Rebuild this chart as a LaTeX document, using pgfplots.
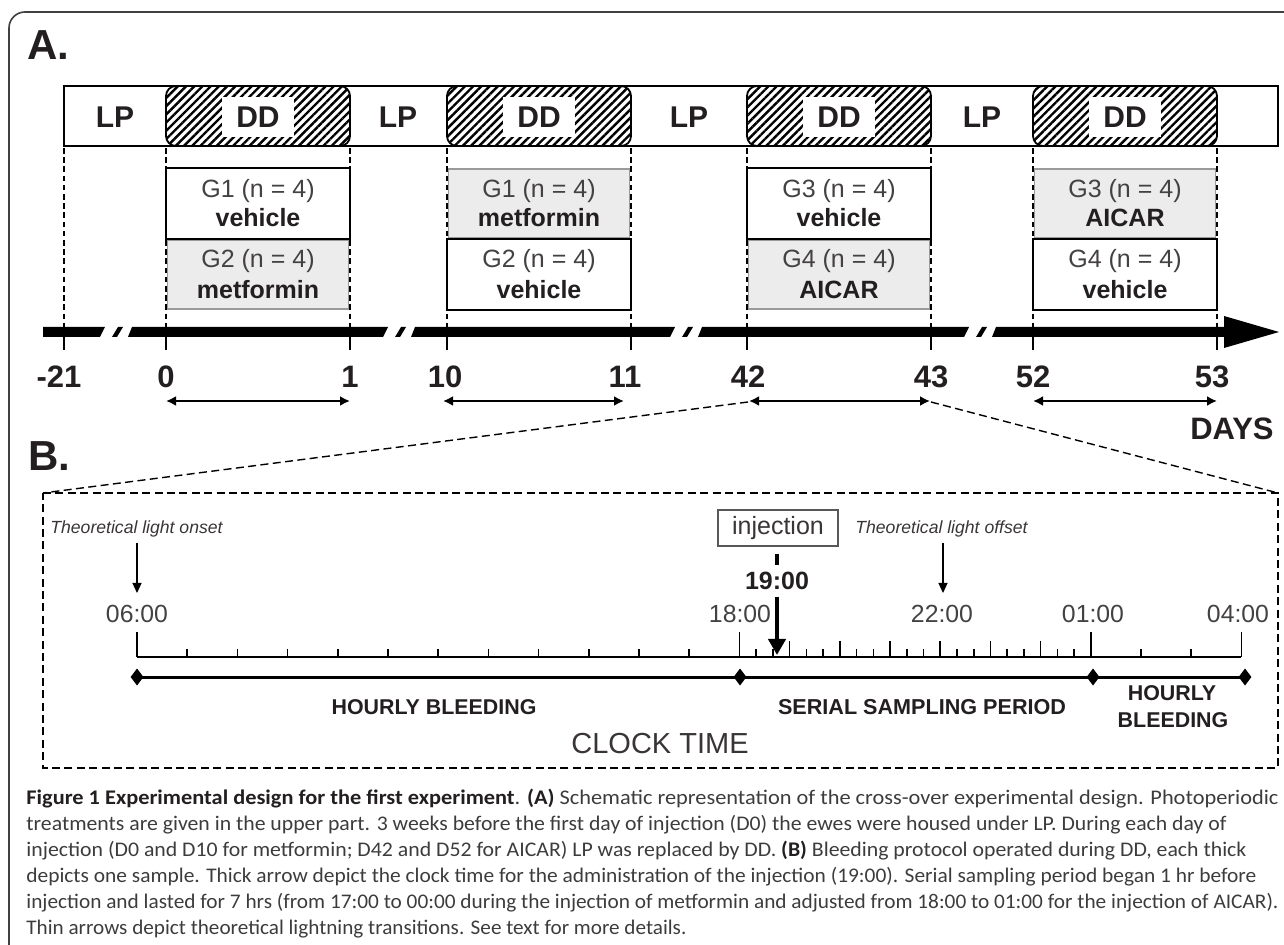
\documentclass[border=0pt]{standalone}
\usepackage{pgfplots}
\pgfplotsset{compat=1.18}
\usepackage{fontspec}
\setmainfont{Liberation Sans}
\newfontfamily\capfont{Carlito}
\usetikzlibrary{arrows.meta,patterns.meta}
\definecolor{txt}{HTML}{231F20}
\definecolor{capc}{HTML}{3C3C3C}
\definecolor{grayfill}{HTML}{ECECEC}
\definecolor{grayedge}{HTML}{9A9A9A}
\newcommand{\fs}[1]{\fontsize{#1}{#1}\selectfont}
% helper macros (numbers passed literally)
\newcommand{\ddbox}[3]{%
  \addplot[draw=black, line width=0.9pt, rounded corners=5pt, pattern={Lines[angle=45,distance=2.9pt,line width=1.2pt]}, pattern color=black]
    coordinates {(#1,86) (#2,86) (#2,146) (#1,146)} -- cycle;
  \node[fill=white, inner sep=0pt, minimum width=36pt, minimum height=20pt] at (axis cs:#3,117) {};
  \node[anchor=base, font=\fs{15}\bfseries, text=txt] at (axis cs:#3,128) {DD};}
\newcommand{\wbox}[4]{\addplot[draw=black, line width=1pt, fill=white] coordinates {(#1,#3) (#2,#3) (#2,#4) (#1,#4)} -- cycle;}
\newcommand{\gbox}[4]{\addplot[draw=grayedge, line width=0.6pt, fill=grayfill] coordinates {(#1,#3) (#2,#3) (#2,#4) (#1,#4)} -- cycle;}
\newcommand{\gtext}[5]{%
  \node[anchor=base, font=\fs{12.5}, text=txt!85] at (axis cs:#1,#2) {#3};
  \node[anchor=base, font=\fs{12.5}\bfseries, text=txt] at (axis cs:#1,#4) {#5};}
\newcommand{\capline}[3]{% baseline y, width (pt), text
  \node[anchor=base west, inner sep=0pt, font=\capfont\fs{10.4}, text=capc] at (axis cs:26,#1) {\resizebox{#2}{\height}{#3}};}
\begin{document}
\begin{tikzpicture}
\begin{axis}[scale only axis, width=642pt, height=472.5pt,
  xmin=0, xmax=1284, ymin=0, ymax=945, y dir=reverse,
  hide axis]
% keep the full page area as bounding box
\path (axis cs:0,0) rectangle (axis cs:1284,945);
% outer frame
\addplot[draw=black!75, line width=0.8pt, rounded corners=8pt] coordinates {(9,945) (9,12) (1284,12)};
\node[anchor=base west, inner sep=0pt, font=\fs{21}\bfseries, text=txt] at (axis cs:27,60) {A.};
% photoperiod band
\addplot[draw=black, line width=0.8pt, fill=white] coordinates {(64,86) (1278,86) (1278,146) (64,146)} -- cycle;
\ddbox{166}{350}{258}
\ddbox{447}{631}{539}
\ddbox{747}{931}{839}
\ddbox{1033}{1217}{1125}
\node[anchor=base, font=\fs{15}\bfseries, text=txt] at (axis cs:115,128) {LP};
\node[anchor=base, font=\fs{15}\bfseries, text=txt] at (axis cs:398,128) {LP};
\node[anchor=base, font=\fs{15}\bfseries, text=txt] at (axis cs:689,128) {LP};
\node[anchor=base, font=\fs{15}\bfseries, text=txt] at (axis cs:982,128) {LP};
% dashed guides and day ticks
\pgfplotsinvokeforeach{64,166,350,447,631,747,931,1033,1217}{
  \addplot[line width=0.7pt, dash pattern=on 2.8pt off 1.8pt] coordinates {(#1,148) (#1,327)};
  \addplot[line width=0.9pt] coordinates {(#1,327) (#1,350)};
}
% group boxes
\wbox{166}{350}{168}{239}
\gbox{167.5}{348.5}{240.5}{309}
\gbox{448.5}{629.5}{169}{238}
\wbox{447}{631}{239.5}{310}
\wbox{747}{931}{168}{239}
\gbox{748.5}{929.5}{240.5}{309}
\gbox{1034.5}{1215.5}{169}{238}
\wbox{1033}{1217}{239.5}{310}
\gtext{258}{198}{G1 (n = 4)}{227}{vehicle}
\gtext{258}{268}{G2 (n = 4)}{299}{metformin}
\gtext{539}{198}{G1 (n = 4)}{227}{metformin}
\gtext{539}{268}{G2 (n = 4)}{299}{vehicle}
\gtext{839}{198}{G3 (n = 4)}{227}{vehicle}
\gtext{839}{268}{G4 (n = 4)}{299}{AICAR}
\gtext{1125}{198}{G3 (n = 4)}{227}{AICAR}
\gtext{1125}{268}{G4 (n = 4)}{299}{vehicle}
% broken time arrow
\addplot[fill=black, draw=none] coordinates {(43,327) (105,327) (100,337) (43,337)} -- cycle;
\addplot[fill=black, draw=none] coordinates {(118,327) (123,327) (117,337) (112,337)} -- cycle;
\addplot[fill=black, draw=none] coordinates {(132,327) (388,327) (383,337) (128,337)} -- cycle;
\addplot[fill=black, draw=none] coordinates {(401,327) (406,327) (400,337) (395,337)} -- cycle;
\addplot[fill=black, draw=none] coordinates {(415,327) (675,327) (670,337) (411,337)} -- cycle;
\addplot[fill=black, draw=none] coordinates {(688,327) (693,327) (687,337) (682,337)} -- cycle;
\addplot[fill=black, draw=none] coordinates {(702,327) (969,327) (964,337) (698,337)} -- cycle;
\addplot[fill=black, draw=none] coordinates {(982,327) (987,327) (981,337) (976,337)} -- cycle;
\addplot[fill=black, draw=none] coordinates {(996,327) (1226,327) (1226,337) (992,337)} -- cycle;
\addplot[fill=black, draw=none] coordinates {(1224,316) (1279,332) (1224,348)} -- cycle;
% day labels
\node[anchor=base, font=\fs{15.5}\bfseries, text=txt] at (axis cs:59,388) {-21};
\node[anchor=base, font=\fs{15.5}\bfseries, text=txt] at (axis cs:166,388) {0};
\node[anchor=base, font=\fs{15.5}\bfseries, text=txt] at (axis cs:350,388) {1};
\node[anchor=base, font=\fs{15.5}\bfseries, text=txt] at (axis cs:445,388) {10};
\node[anchor=base, font=\fs{15.5}\bfseries, text=txt] at (axis cs:625,388) {11};
\node[anchor=base, font=\fs{15.5}\bfseries, text=txt] at (axis cs:748,388) {42};
\node[anchor=base, font=\fs{15.5}\bfseries, text=txt] at (axis cs:931,388) {43};
\node[anchor=base, font=\fs{15.5}\bfseries, text=txt] at (axis cs:1033,388) {52};
\node[anchor=base, font=\fs{15.5}\bfseries, text=txt] at (axis cs:1212,388) {53};
% day-span double arrows
\addplot[line width=1pt, {Latex[length=5pt,width=5pt]}-{Latex[length=5pt,width=5pt]}] coordinates {(166,401) (350,401)};
\addplot[line width=1pt, {Latex[length=5pt,width=5pt]}-{Latex[length=5pt,width=5pt]}] coordinates {(443,401) (624,401)};
\addplot[line width=1pt, {Latex[length=5pt,width=5pt]}-{Latex[length=5pt,width=5pt]}] coordinates {(749,401) (930,401)};
\addplot[line width=1pt, {Latex[length=5pt,width=5pt]}-{Latex[length=5pt,width=5pt]}] coordinates {(1033,401) (1217,401)};
\node[anchor=base east, inner sep=0pt, font=\fs{15.5}\bfseries, text=txt] at (axis cs:1274,440) {DAYS};
% zoom lines and panel B box
\addplot[line width=0.7pt, dash pattern=on 4pt off 2.2pt] coordinates {(748,402) (43,493)};
\addplot[line width=0.7pt, dash pattern=on 4pt off 2.2pt] coordinates {(931,402) (1278,493)};
\addplot[line width=0.7pt, dash pattern=on 4pt off 2.2pt] coordinates {(43,493) (1278,493) (1278,768) (43,768)} -- cycle;
\node[anchor=base west, inner sep=0pt, font=\fs{21}\bfseries, text=txt] at (axis cs:28,471) {B.};
% panel B annotations
\node[anchor=base west, inner sep=0pt, font=\fs{8.8}\itshape, text=txt!90] at (axis cs:50,534) {Theoretical light onset};
\node[anchor=base west, inner sep=0pt, font=\fs{8.8}\itshape, text=txt!90] at (axis cs:855,534) {Theoretical light offset};
\addplot[line width=0.6pt, -{Triangle[length=5pt,width=4.5pt]}] coordinates {(137,543) (137,593)};
\addplot[line width=0.6pt, -{Triangle[length=5pt,width=4.5pt]}] coordinates {(943,543) (943,593)};
\node[draw=txt!75, line width=0.8pt, font=\fs{12.5}, text=txt!90, minimum width=60pt, minimum height=18pt, inner sep=0pt] at (axis cs:778,528) {injection};
\addplot[line width=2pt] coordinates {(777,554) (777,565)};
\node[anchor=base, font=\fs{12.5}\bfseries, text=txt] at (axis cs:777,590) {19:00};
\node[anchor=base, font=\fs{12.4}, text=txt!85] at (axis cs:137,623) {06:00};
\node[anchor=base, font=\fs{12.4}, text=txt!85] at (axis cs:740,623) {18:00};
\node[anchor=base, font=\fs{12.4}, text=txt!85] at (axis cs:942,623) {22:00};
\node[anchor=base, font=\fs{12.4}, text=txt!85] at (axis cs:1093,623) {01:00};
\node[anchor=base, font=\fs{12.4}, text=txt!85] at (axis cs:1238,623) {04:00};
% clock time axis
\addplot[line width=1pt] coordinates {(137,657) (1241.4,657)};
\addplot[only marks, mark=|, mark size=2pt, mark options={line width=0.8pt}] coordinates {
 (187.2,653) (237.4,653) (287.6,653) (337.8,653) (388,653) (438.2,653) (488.4,653) (538.6,653) (588.8,653) (639,653) (689.2,653)
 (756.1,653) (772.9,653) (806.3,653) (823.1,653) (856.5,653) (873.3,653) (906.7,653) (923.5,653) (956.9,653) (973.7,653)
 (1007.1,653) (1023.9,653) (1057.3,653) (1074.1,653) (1141,653) (1191.2,653)};
\addplot[only marks, mark=|, mark size=4pt, mark options={line width=0.8pt}] coordinates {
 (789.6,649) (839.8,649) (890,649) (940.2,649) (990.4,649) (1040.6,649)};
\addplot[only marks, mark=|, mark size=6.25pt, mark options={line width=0.8pt}] coordinates {
 (137,644.5) (739.4,644.5) (1090.8,644.5) (1241.4,644.5)};
\addplot[line width=2.2pt, -{Triangle[length=8pt,width=8.5pt]}] coordinates {(777,597) (777,655)};
% periods
\addplot[line width=1.5pt, mark=diamond*, mark size=3pt] coordinates {(137,677) (740,677) (1093,677) (1245,677)};
\node[anchor=base, font=\fs{10.7}\bfseries, text=txt] at (axis cs:434,714) {HOURLY BLEEDING};
\node[anchor=base, font=\fs{10.8}\bfseries, text=txt] at (axis cs:922,714) {SERIAL SAMPLING PERIOD};
\node[anchor=base, font=\fs{10.7}\bfseries, text=txt] at (axis cs:1172,700) {HOURLY};
\node[anchor=base, font=\fs{10.7}\bfseries, text=txt] at (axis cs:1173,727) {BLEEDING};
\node[anchor=base, font=\fs{14.5}, text=txt!90] at (axis cs:660,753) {CLOCK TIME};
% caption
\capline{804}{626pt}{{\color{txt}\bfseries Figure 1 Experimental design for the first experiment}. {\color{txt}\bfseries (A)} Schematic representation of the cross-over experimental design. Photoperiodic}
\capline{830}{600pt}{treatments are given in the upper part. 3 weeks before the first day of injection (D0) the ewes were housed under LP. During each day of}
\capline{856}{610pt}{injection (D0 and D10 for metformin; D42 and D52 for AICAR) LP was replaced by DD. {\color{txt}\bfseries (B)} Bleeding protocol operated during DD, each thick}
\capline{882}{615pt}{depicts one sample. Thick arrow depict the clock time for the administration of the injection (19:00). Serial sampling period began 1 hr before}
\capline{908}{626pt}{injection and lasted for 7 hrs (from 17:00 to 00:00 during the injection of metformin and adjusted from 18:00 to 01:00 for the injection of AICAR).}
\capline{934}{330pt}{Thin arrows depict theoretical lightning transitions. See text for more details.}
\end{axis}
\end{tikzpicture}
\end{document}
